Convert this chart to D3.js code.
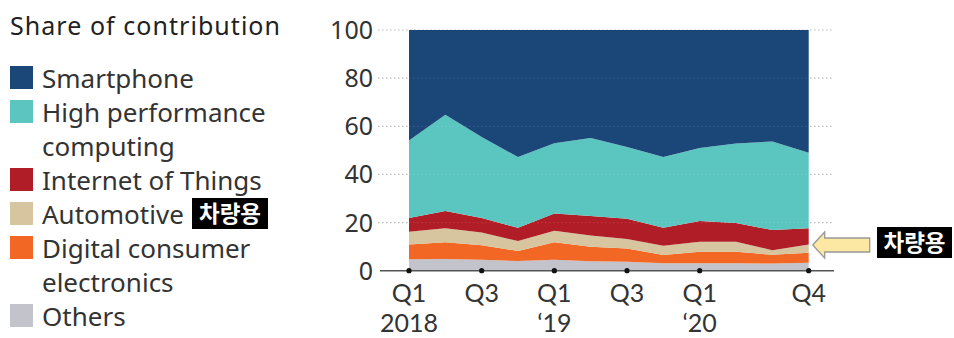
<!DOCTYPE html>
<html>
<head>
<meta charset="utf-8">
<script src="https://cdn.jsdelivr.net/npm/d3@7"></script>
<style>
  body { margin: 0; background: #fff; }
  svg { display: block; font-family: "Noto Sans", Lato, sans-serif; }
</style>
</head>
<body>
<div id="chart"></div>
<script>
// Data
const quarters = ["Q1 2018", "Q2 2018", "Q3 2018", "Q4 2018", "Q1 2019", "Q2 2019",
  "Q3 2019", "Q4 2019", "Q1 2020", "Q2 2020", "Q3 2020", "Q4 2020"];
const others     = [4.8, 4.9, 4.5, 4.0, 4.5, 3.9, 3.7, 3.1, 3.1, 3.1, 3.0, 3.3];
const digital    = [6.1, 6.9, 6.1, 4.2, 7.3, 6.0, 5.5, 3.4, 4.8, 4.8, 3.6, 4.2];
const automotive = [5.3, 5.8, 5.3, 4.1, 4.8, 4.7, 4.0, 3.9, 4.1, 4.1, 1.9, 3.4];
const iot        = [5.7, 7.2, 6.0, 5.5, 7.2, 8.1, 8.4, 7.4, 8.6, 7.8, 8.4, 6.7];
const hpc        = [32.2, 40.0, 33.6, 29.4, 29.2, 32.4, 29.8, 29.4, 30.4, 33.0, 36.8, 31.4];
const smartphone = [45.9, 35.2, 44.5, 52.8, 47.0, 44.9, 48.6, 52.8, 49.0, 47.2, 46.3, 51.0];

const yTicks = [0, 20, 40, 60, 80, 100];
const xTickLabels = [
  { q: "Q1 2018", lines: ["Q1", "2018"] },
  { q: "Q3 2018", lines: ["Q3"] },
  { q: "Q1 2019", lines: ["Q1", "\u201819"] },
  { q: "Q3 2019", lines: ["Q3"] },
  { q: "Q1 2020", lines: ["Q1", "\u201820"] },
  { q: "Q4 2020", lines: ["Q4"] },
];

const series = [
  { key: "smartphone", name: ["Smartphone"], values: smartphone, color: "#1b4678" },
  { key: "hpc", name: ["High performance", "computing"], values: hpc, color: "#5bc5bf" },
  { key: "iot", name: ["Internet of Things"], values: iot, color: "#b01d26" },
  { key: "automotive", name: ["Automotive"], values: automotive, color: "#d6c59e" },
  { key: "digital", name: ["Digital consumer", "electronics"], values: digital, color: "#f26724" },
  { key: "others", name: ["Others"], values: others, color: "#c3c4cb" },
];

// Table for d3.stack
const table = quarters.map((q, i) => {
  const row = { q };
  series.forEach((s) => (row[s.key] = s.values[i]));
  return row;
});

// Dimensions
const width = 954, height = 338;
const svg = d3.select("#chart").append("svg")
  .attr("width", width).attr("height", height);

const xScale = d3.scalePoint().domain(quarters).range([409, 808.7]);
const yScale = d3.scaleLinear().domain([0, 100]).range([270.7, 30]);

// Stack (bottom to top)
const stackKeys = series.map((s) => s.key).reverse();
const stacked = d3.stack().keys(stackKeys)(table);
const colorOf = Object.fromEntries(series.map((s) => [s.key, s.color]));

// Grid (under)
svg.append("g").selectAll("line").data(yTicks.filter((d) => d > 0)).join("line")
  .attr("x1", 378).attr("x2", 834)
  .attr("y1", (d) => yScale(d)).attr("y2", (d) => yScale(d))
  .attr("stroke", "#bbb").attr("stroke-width", 1.2)
  .attr("stroke-dasharray", "1.5,2.5");

// Areas
const area = d3.area()
  .x((d) => xScale(d.data.q))
  .y0((d) => yScale(d[0]))
  .y1((d) => yScale(d[1]));

svg.append("g").selectAll("path").data(stacked).join("path")
  .attr("d", area)
  .attr("fill", (d) => colorOf[d.key]);

// Faint grid over areas
svg.append("g").selectAll("line").data(yTicks.filter((d) => d > 0 && d < 100)).join("line")
  .attr("x1", xScale.range()[0]).attr("x2", xScale.range()[1])
  .attr("y1", (d) => yScale(d)).attr("y2", (d) => yScale(d))
  .attr("stroke", "#ffffff").attr("stroke-opacity", 0.12).attr("stroke-width", 1.2)
  .attr("stroke-dasharray", "1.5,2.5");

// Y labels
svg.append("g").selectAll("text").data(yTicks).join("text")
  .attr("x", 373).attr("y", (d) => yScale(d) + 9)
  .attr("text-anchor", "end")
  .attr("font-size", 25).attr("fill", "#333")
  .text((d) => d);

// X axis line + dots
svg.append("line")
  .attr("x1", 380).attr("x2", 834)
  .attr("y1", yScale(0)).attr("y2", yScale(0))
  .attr("stroke", "#555").attr("stroke-width", 1.5);

svg.append("g").selectAll("circle").data(xTickLabels).join("circle")
  .attr("cx", (d) => xScale(d.q)).attr("cy", yScale(0))
  .attr("r", 2.6).attr("fill", "#111");

const xl = svg.append("g").selectAll("text").data(xTickLabels).join("text")
  .attr("text-anchor", "middle")
  .attr("font-family", "Lato, sans-serif")
  .attr("font-size", 25).attr("fill", "#333");
xl.selectAll("tspan").data((d) => d.lines.map((l) => ({ l, x: xScale(d.q) }))).join("tspan")
  .attr("x", (d) => d.x)
  .attr("y", (d, i) => 301.5 + i * 30.5)
  .text((d) => d.l);

// Legend
svg.append("text")
  .attr("x", 10).attr("y", 35)
  .attr("font-size", 25).attr("fill", "#222")
  .attr("textLength", 270).attr("lengthAdjust", "spacing")
  .text("Share of contribution");

const legendRows = [88, 122, 190, 224, 258, 326];
series.forEach((s, i) => {
  const base = legendRows[i];
  svg.append("rect")
    .attr("x", 10).attr("y", base - 22).attr("width", 23).attr("height", 23)
    .attr("fill", s.color);
  s.name.forEach((line, j) => {
    svg.append("text")
      .attr("x", 42).attr("y", base + j * 34)
      .attr("font-size", 26).attr("fill", "#333")
      .text(line);
  });
});

// Korean labels
function koreanTag(x, y, w, h) {
  svg.append("rect").attr("x", x).attr("y", y).attr("width", w).attr("height", h).attr("fill", "#000");
  svg.append("text")
    .attr("x", x + w / 2).attr("y", y + h / 2 + 8)
    .attr("text-anchor", "middle")
    .attr("font-family", "'Noto Sans CJK KR', sans-serif")
    .attr("font-weight", 700).attr("font-size", 22.5).attr("fill", "#fff")
    .text("차량용");
}
koreanTag(192, 198, 76, 31);
koreanTag(877, 227, 75, 31);

// Arrow
const ax = xScale("Q4 2020") + 4, ay = 245;
svg.append("path")
  .attr("d", `M${ax},${ay} L${ax + 12},${ay - 13} L${ax + 12},${ay - 7} L${ax + 57},${ay - 7}
              L${ax + 57},${ay + 7} L${ax + 12},${ay + 7} L${ax + 12},${ay + 13} Z`)
  .attr("fill", "#fde8a3").attr("stroke", "#999").attr("stroke-width", 1.3);
</script>
</body>
</html>
